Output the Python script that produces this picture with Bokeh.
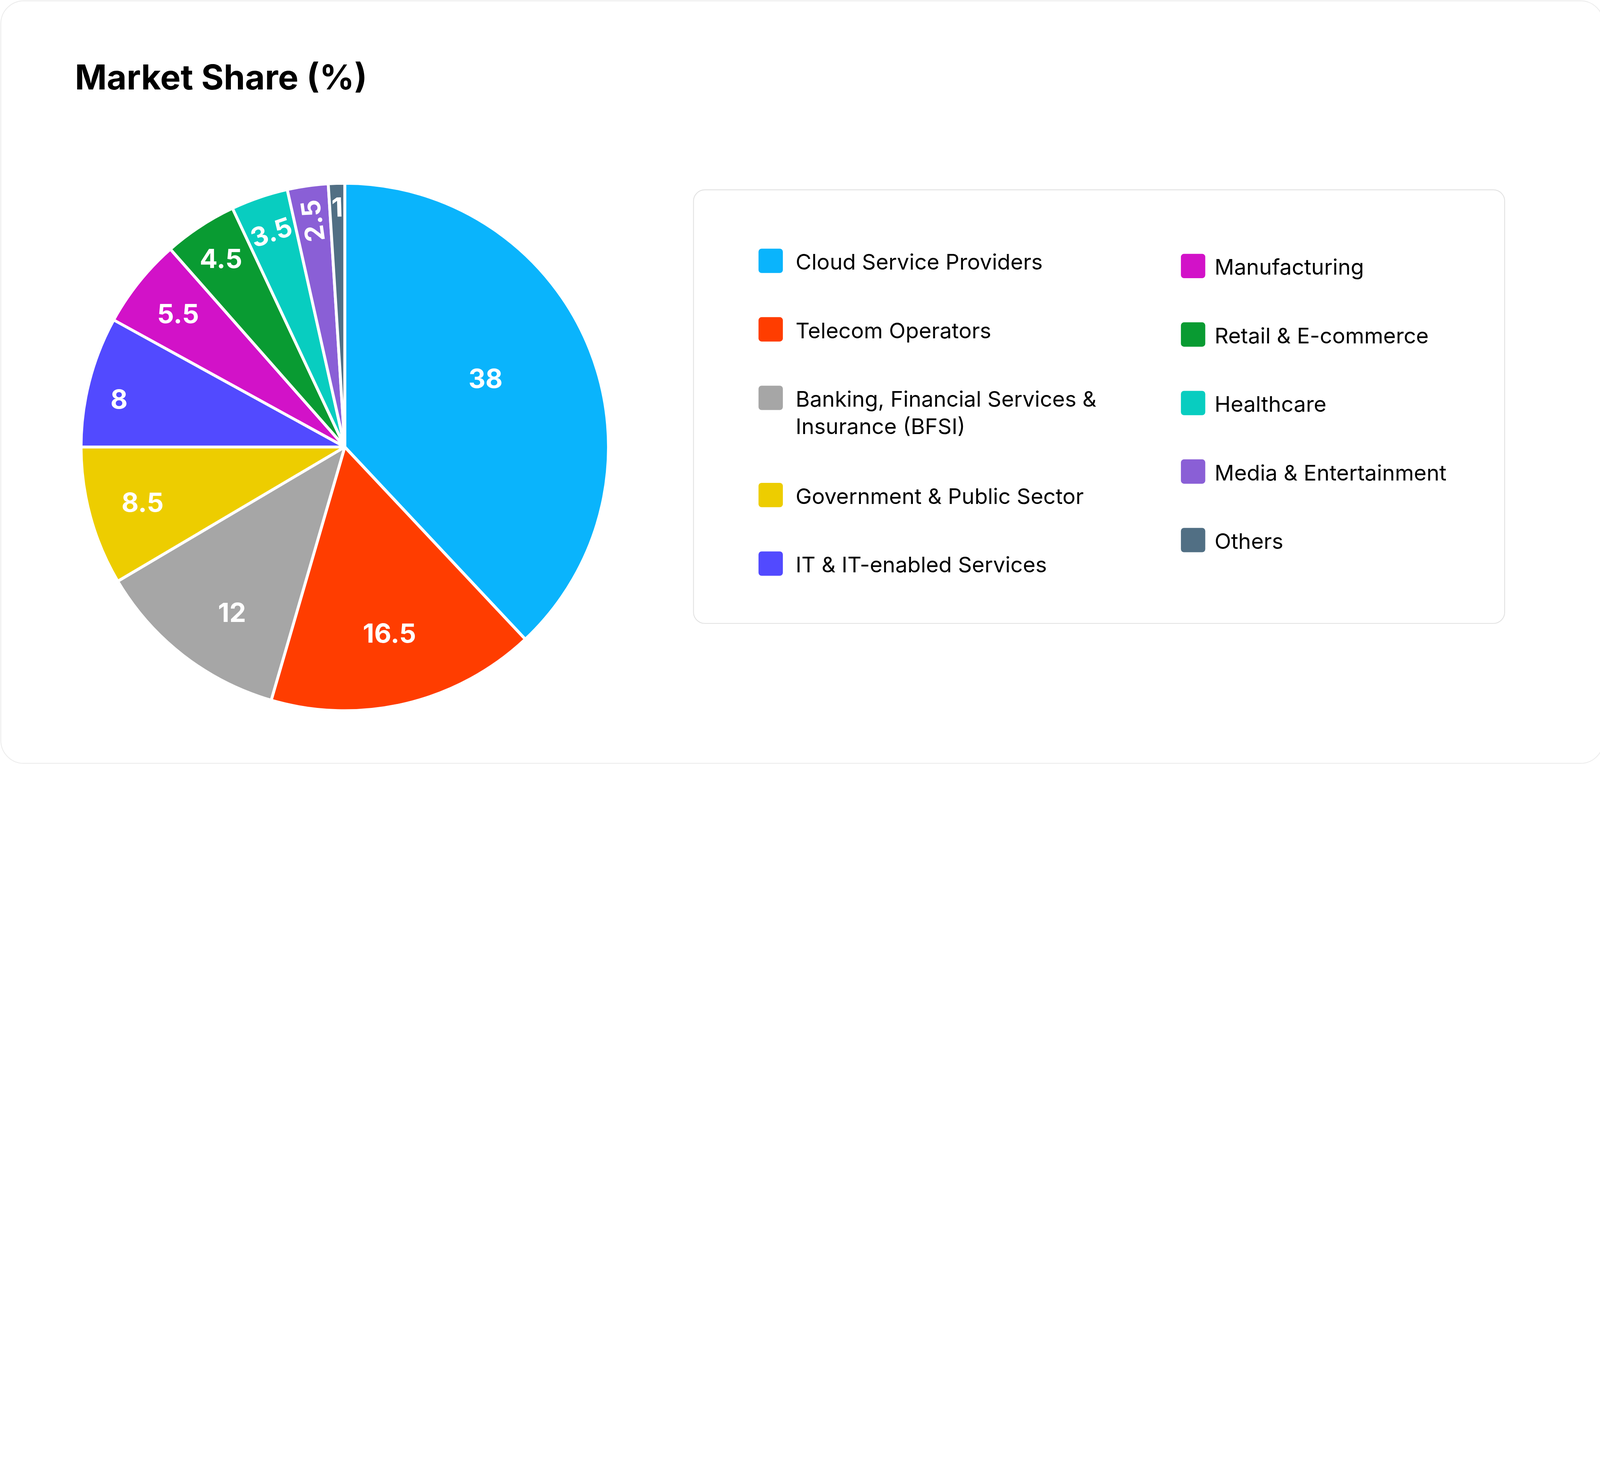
import numpy as np
from bokeh.core.properties import value
from bokeh.embed import file_html
from bokeh.models import BoxAnnotation
from bokeh.plotting import figure
from bokeh.resources import INLINE

# data
sectors = ["Cloud Service Providers", "Telecom Operators",
           "Banking, Financial Services &\nInsurance (BFSI)",
           "Government & Public Sector", "IT & IT-enabled Services",
           "Manufacturing", "Retail & E-commerce", "Healthcare",
           "Media & Entertainment", "Others"]
share = [38, 16.5, 12, 8.5, 8, 5.5, 4.5, 3.5, 2.5, 1]
colors = ["#0ab4fc", "#ff3d00", "#a6a6a6", "#edcd00", "#524aff",
          "#d212c8", "#099b32", "#08cdc0", "#8a5fd6", "#516f84"]

# layout is measured in the picture's pixels (y from the top);
# the page renders at about 1.89 picture pixels per css pixel
D = 1.893
W, H = 4106, 1955
M = 8 * D
FONT = value("Inter")
CX, CY, R = 1685, 2180, 1278
label_r = [0.594, 0.726, 0.759, 0.795, 0.875, 0.81, 0.855, 0.861, 0.866, 0.91]
label_nudge = [4.4, 0, 3.5, 0, 2.4, 0, 0, 0, 0, 0]   # degrees, ccw
radial_labels = {"Media & Entertainment"}


def Y(y_ref):
    return 3732 - y_ref


def px(v):
    return v / D


p = figure(width=W, height=H, x_range=(M, M + W * D), y_range=(3732 - M - H * D, 3732 - M),
           output_backend="svg", toolbar_location=None, min_border=0,
           x_axis_location=None, y_axis_location=None,
           outline_line_color=None, background_fill_color="white")
p.grid.visible = False

# card and legend frame
p.add_layout(BoxAnnotation(left=M + 3, right=M + W * D - 3, top=Y(M + 3),
                           bottom=3732 - M - H * D + 3,
                           fill_color=None, line_color="#bfbfbf", line_width=px(4),
                           border_radius=round(px(112))))
p.add_layout(BoxAnnotation(left=3375, right=7306, top=Y(934), bottom=Y(3035),
                           fill_color=None, line_color="#9a9a9a", line_width=px(4),
                           border_radius=round(px(55))))

p.text(x=[377], y=[Y(388)], text=["Market Share (%)"], text_font=FONT,
       text_font_size=f"{px(166):.1f}px", text_font_style="bold",
       text_color="#000000", text_baseline="alphabetic")

# pie
vals = np.array(share, dtype=float)
cum = np.concatenate([[0], np.cumsum(vals)]) / vals.sum()
start = np.pi / 2 - 2 * np.pi * cum[:-1]
end = np.pi / 2 - 2 * np.pi * cum[1:]
p.wedge(x=CX, y=Y(CY), radius=R, start_angle=start, end_angle=end,
        direction="clock", fill_color=colors, line_color="white", line_width=px(14))

mid = (start + end) / 2
pos = mid + np.radians(label_nudge)
lx = CX + R * np.array(label_r) * np.cos(pos)
ly = Y(CY) + R * np.array(label_r) * np.sin(pos)
rot = []
for name, v, m in zip(sectors, share, mid):
    if v >= 4:
        rot.append(0.0)
    elif name in radial_labels:
        rot.append(m)
    else:
        rot.append(m - np.pi / 2)
p.text(x=lx, y=ly, text=[f"{v:g}" for v in share], angle=rot,
       text_font=FONT, text_font_size=f"{px(128):.1f}px", text_font_style="bold",
       text_color="white", text_align="center", text_baseline="middle")

# legend, two columns
columns = [(range(0, 5), 3749, 3870, 1278), (range(5, 10), 5796, 5900, 1303)]
SW, STEP, LINE = 118, 332, 132
for idx, sx, tx, y0 in columns:
    y = y0
    for i in idx:
        n_lines = sectors[i].count("\n") + 1
        p.quad(left=sx - SW / 2, right=sx + SW / 2, top=Y(y - SW / 2),
               bottom=Y(y + SW / 2), fill_color=colors[i], line_color=None,
               border_radius=round(px(16)))
        p.text(x=[tx], y=[Y(y + 4 + (n_lines - 1) * LINE / 2)], text=[sectors[i]],
               text_font=FONT, text_font_size=f"{px(105):.1f}px", text_color="#000000",
               text_baseline="middle", text_line_height=1.04)
        y += STEP + (n_lines - 1) * (LINE + 7)

open("out.html", "w").write(file_html(p, INLINE))
